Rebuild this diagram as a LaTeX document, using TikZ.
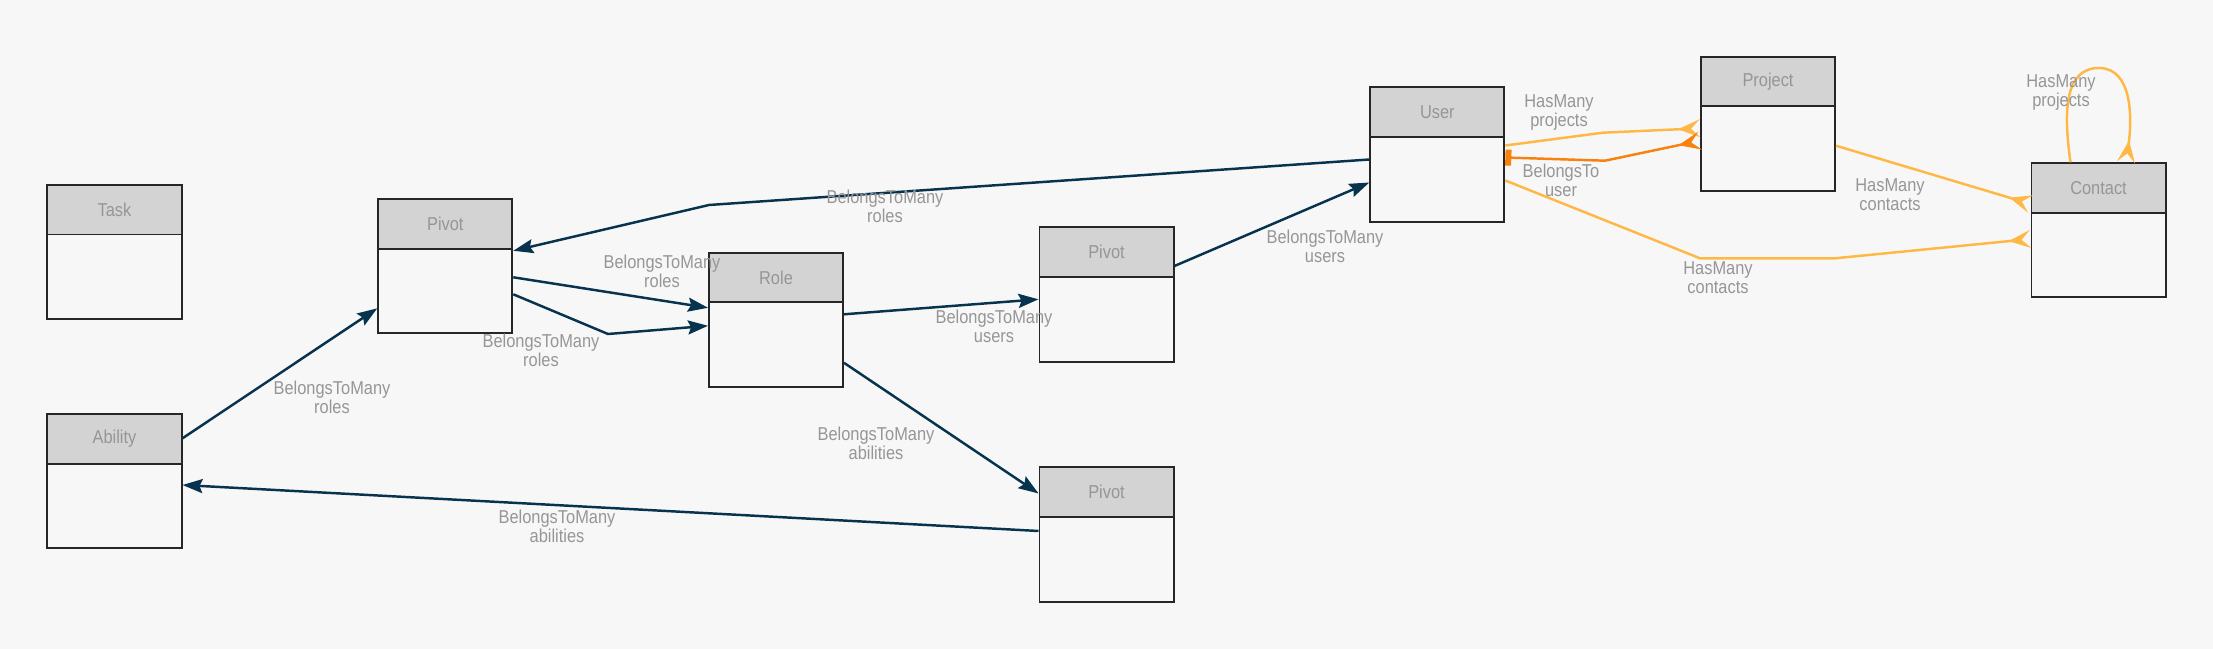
\documentclass[tikz,border=0pt]{standalone}
\usepackage{fontspec}
\setmainfont{Liberation Sans}[FakeStretch=0.88]
\usetikzlibrary{arrows.meta}

\definecolor{bgcol}{HTML}{F7F7F7}
\definecolor{headcol}{HTML}{D3D3D3}
\definecolor{navy}{HTML}{07334F}
\definecolor{hasmany}{HTML}{FFB845}
\definecolor{belongs}{HTML}{F7820D}
\definecolor{txtgray}{HTML}{969696}

\tikzset{
  crow/.tip={Stealth[reversed,length=2.2mm,width=1.8mm,inset=0.9mm]},
  ent/.style={draw=black!85,fill=bgcol,line width=0.55pt,minimum width=1.34cm,minimum height=1.34cm,inner sep=0pt},
  head/.style={draw=black!85,fill=headcol,line width=0.55pt,minimum width=1.34cm,minimum height=0.495cm,
    inner sep=0pt,anchor=north,text=txtgray,font=\fontsize{5.3}{5.4}\selectfont},
  lbl/.style={text=txtgray,align=center,inner sep=0pt,font=\fontsize{5.3}{5.4}\selectfont},
  rel/.style={draw=navy,line width=0.7pt,->},
  many/.style={draw=hasmany,line width=0.7pt,-crow},
  owner/.style={draw=belongs,line width=0.7pt,{Rectangle[length=0.6mm,width=1.6mm]}-crow}
}

\begin{document}
\begin{tikzpicture}[x=0.01cm,y=-0.01cm,>={Stealth[length=2mm,width=1.4mm,inset=0.3mm]}]
  \fill[bgcol] (0,0) rectangle (2213,649);

  % tables
  \foreach \n/\x/\y/\t in {task/114.5/252/Task, ability/114.5/481.3/Ability,
      pivr/445.3/266.3/Pivot, role/776/319.8/Role, pivu/1106.5/294.5/Pivot,
      piva/1106.5/534.5/Pivot, user/1437.3/154.5/User, project/1768/123.7/Project,
      contact/2098.5/230.3/Contact} {
    \node[ent] (\n) at (\x,\y) {};
    \node[head] (\n h) at (\n.north) {\t};
  }

  % bends
  \coordinate (b1) at (709,205);
  \coordinate (b2) at (608,334);
  \coordinate (b3) at (1603,132.7);
  \coordinate (b4) at (1605,160.7);
  \coordinate (b5) at (1700,258.3);
  \coordinate (b6) at (1835,258.3);

  % belongs to many
  \draw[rel] ([yshift=0.43cm]ability.east) -- ([yshift=-0.42cm]pivr.west);
  \draw[rel] ([yshift=0.035cm]piva.west) -- ([yshift=-0.037cm]ability.east);
  \draw[rel] ([yshift=-0.43cm]role.east) -- ([yshift=0.41cm]piva.west);
  \draw[rel] ([yshift=0.055cm]role.east) -- ([yshift=-0.048cm]pivu.west);
  \draw[rel] ([yshift=0.285cm]pivu.east) -- ([yshift=-0.28cm]user.west);
  \draw[rel] ([yshift=-0.05cm]user.west) -- (b1) -- ([yshift=0.155cm]pivr.east);
  \draw[rel] ([yshift=-0.11cm]pivr.east) -- ([yshift=0.12cm]role.west);
  \draw[rel] ([yshift=-0.28cm]pivr.east) -- (b2) -- ([yshift=-0.06cm]role.west);

  % has many / belongs to
  \draw[many] ([yshift=0.09cm]user.east) -- (b3) -- ([yshift=-0.046cm]project.west);
  \draw[owner] ([yshift=-0.03cm]user.east) -- (b4) -- ([yshift=-0.17cm]project.west);
  \draw[many] ([yshift=-0.26cm]user.east) -- (b5) -- (b6) -- ([yshift=-0.087cm]contact.west);
  \draw[many] ([yshift=-0.22cm]project.east) -- ([yshift=0.263cm]contact.west);
  \draw[many] ([xshift=-0.28cm]contact.north) .. controls (2063,110) and (2065,68) .. (2099,68)
    .. controls (2133,68) and (2132,120) .. ([xshift=0.275cm]contact.north);

  % labels
  \node[lbl] (l1) at (332,397) {BelongsToMany\\roles};
  \node[lbl] (l2) at (557,526) {BelongsToMany\\abilities};
  \node[lbl] (l3) at (876,443) {BelongsToMany\\abilities};
  \node[lbl] (l4) at (994,326) {BelongsToMany\\users};
  \node[lbl] (l5) at (1325,246) {BelongsToMany\\users};
  \node[lbl] (l6) at (885,206) {BelongsToMany\\roles};
  \node[lbl] (l7) at (662,271) {BelongsToMany\\roles};
  \node[lbl] (l8) at (541,350.5) {BelongsToMany\\roles};
  \node[lbl] (l9) at (1559,113) {HasMany\\projects};
  \node[lbl] (l10) at (1561,180) {BelongsTo\\user};
  \node[lbl] (l11) at (1718,278) {HasMany\\contacts};
  \node[lbl] (l12) at (1890,194.5) {HasMany\\contacts};
  \node[lbl] (l13) at (2061,93) {HasMany\\projects};
\end{tikzpicture}
\end{document}
